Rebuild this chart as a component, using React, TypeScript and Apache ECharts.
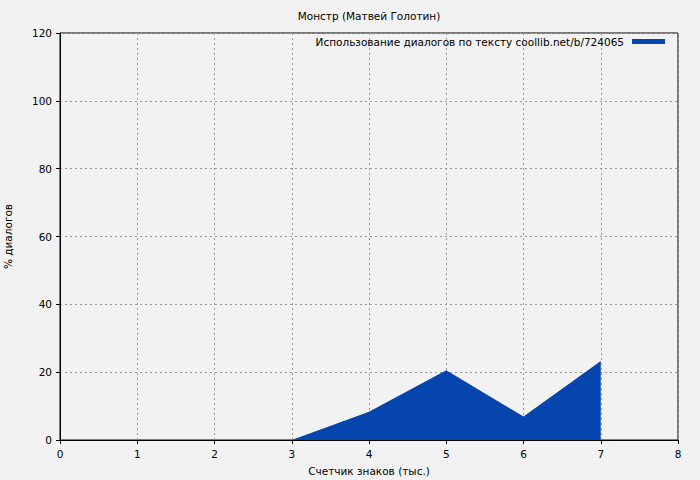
import React, { useEffect, useRef } from "react";
import * as echarts from "echarts";

const titleText = "Монстр (Матвей Голотин)";
const seriesName = "Использование диалогов по тексту coollib.net/b/724065";
const xName = "Счетчик знаков (тыс.)";
const yName = "% диалогов";
const xValues = [0, 1, 2, 3, 4, 5, 6, 7];
const yValues = [0, 0, 0, 0, 8.3, 20.6, 6.9, 23.3];

export default function App() {
  const ref = useRef<HTMLDivElement>(null);
  useEffect(() => {
    if (!ref.current) return;
    const chart = echarts.init(ref.current, null, { renderer: "svg" });
    const font = "DejaVu Sans";
    const fs = 10.5;
    chart.setOption({
      animation: false,
      backgroundColor: "#f2f2f2",
      textStyle: { fontFamily: font, color: "#000" },
      title: {
        text: titleText,
        left: 369,
        textAlign: "center",
        top: 10,
        padding: 0,
        textStyle: { fontFamily: font, fontSize: fs, fontWeight: "normal", color: "#000" },
      },
      legend: {
        right: 35,
        top: 36,
        padding: 0,
        align: "right",
        icon: "rect",
        itemWidth: 33,
        itemHeight: 5,
        textStyle: { fontFamily: font, fontSize: fs, color: "#000", padding: [0, 3, 0, 0] },
        data: [seriesName],
      },
      grid: {
        left: 60,
        right: 22,
        top: 33,
        bottom: 40,
        outerBoundsMode: "none",
        containLabel: false,
        show: true,
        borderColor: "#000",
        borderWidth: 1,
        backgroundColor: "transparent",
      },
      xAxis: {
        type: "value",
        min: 0,
        max: 8,
        interval: 1,
        name: xName,
        nameLocation: "middle",
        nameGap: 25,
        nameTextStyle: { fontFamily: font, fontSize: fs, color: "#000" },
        axisLine: { show: true, lineStyle: { color: "#000", width: 1 } },
        axisTick: { show: true, length: 4, lineStyle: { color: "#000" } },
        axisLabel: { fontFamily: font, fontSize: fs, color: "#000", margin: 8 },
        splitLine: { show: true, lineStyle: { color: "#999", type: [2, 3], width: 1 } },
      },
      yAxis: {
        type: "value",
        min: 0,
        max: 120,
        interval: 20,
        name: yName,
        nameLocation: "middle",
        nameGap: 47,
        nameTextStyle: { fontFamily: font, fontSize: fs, color: "#000" },
        axisLine: { show: true, lineStyle: { color: "#000", width: 1 } },
        axisTick: { show: true, length: 4, lineStyle: { color: "#000" } },
        axisLabel: { fontFamily: font, fontSize: fs, color: "#000", margin: 8 },
        splitLine: { show: true, lineStyle: { color: "#999", type: [2, 3], width: 1 } },
      },
      series: [
        {
          name: seriesName,
          type: "line",
          data: xValues.map((x, i) => [x, yValues[i]]),
          symbol: "none",
          itemStyle: { color: "#0645ad" },
          lineStyle: { width: 0, color: "#0645ad" },
          areaStyle: { color: "#0645ad", opacity: 1 },
          z: 1,
        },
      ],
    });
    return () => chart.dispose();
  }, []);
  return (
    <div
      ref={ref}
      style={{ position: "fixed", left: 0, top: 0, width: 700, height: 480 }}
    />
  );
}
